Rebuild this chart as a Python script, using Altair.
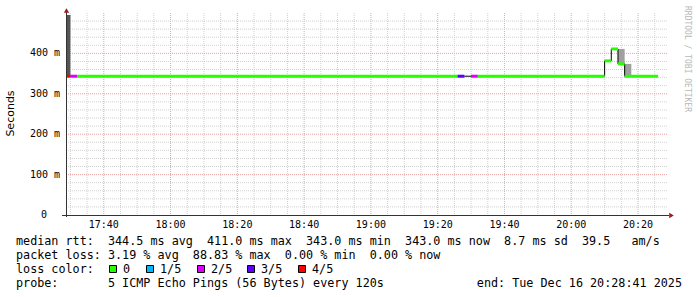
import altair as alt
import pandas as pd

# ---------------- data (times as "HH:MM[:SS]") ----------------
seg_start = ["17:28:41", "17:30", "17:32", "19:26", "19:28", "19:30", "19:32", "20:10", "20:12", "20:14", "20:16"]
seg_end   = ["17:30", "17:32", "19:26", "19:28", "19:30", "19:32", "20:10", "20:12", "20:14", "20:16", "20:26"]
median_ms = [343.5, 343.5, 343.5, 343.5, 343.5, 343.5, 343.5, 381.5, 411.0, 374.0, 343.5]
seg_loss  = ["4/5", "2/5", "0", "3/5", "5/5", "2/5", "0", "0", "0", "0", "0"]

smoke_start = ["17:28:41", "20:14", "20:16"]
smoke_end   = ["17:30", "20:16", "20:18"]
smoke_low   = [343.5, 374.0, 343.5]
smoke_high  = [495.0, 411.0, 374.0]
smoke_level = ["dense", "light", "light"]

x_tick_times  = ["17:40", "18:00", "18:20", "18:40", "19:00", "19:20", "19:40", "20:00", "20:20"]
y_tick_values = [100, 200, 300, 400]
y_tick_labels = ["100 m", "200 m", "300 m", "400 m"]

loss_labels = ["0", "1/5", "2/5", "3/5", "4/5"]
loss_colors = ["#26ff00", "#00b8ff", "#dd00ff", "#5e00ff", "#ff0000"]

rtt_stats  = ["344.5 ms avg", "411.0 ms max", "343.0 ms min", "343.0 ms now", "8.7 ms sd", "39.5   am/s"]
loss_stats = ["3.19 % avg", "88.83 % max", "0.00 % min", "0.00 % now"]
probe_text = "5 ICMP Echo Pings (56 Bytes) every 120s"
end_text = "end: Tue Dec 16 20:28:41 2025"

start_time, end_time = "17:28:41", "20:28:41"


def mins(s):
    p = [int(v) for v in s.split(":")]
    m = p[0] * 60 + p[1]
    if len(p) > 2:
        m += p[2] / 60.0
    return m


W, H = 601, 200
MONO = "DejaVu Sans Mono"
NB = "\u00a0"

xs = alt.Scale(domain=[mins(start_time), mins(end_time)], nice=False, zero=False)
ys = alt.Scale(domain=[0, 495], nice=False, zero=True)

# ---------------- grid ----------------
t0, t1 = mins(start_time), mins(end_time)
vmin = [m for m in range(1050, 1230, 5) if m % 20 != 0 and t0 < m < t1]
vmaj = [m for m in range(1060, 1230, 20) if t0 < m < t1]
hmin = [v for v in range(20, 495, 20) if v % 100 != 0]
hmaj = [100, 200, 300, 400]

grid_minor = "#d0d0d0"
grid_major = "#e6a3a3"

vminor = alt.Chart(pd.DataFrame({"t": vmin})).mark_rule(color=grid_minor, strokeDash=[1, 1], strokeWidth=1).encode(
    x=alt.X("t:Q", scale=xs, axis=None), y=alt.value(-2), y2=alt.value(H))
vmajor = alt.Chart(pd.DataFrame({"t": vmaj})).mark_rule(color=grid_major, strokeDash=[1, 1], strokeWidth=1).encode(
    x=alt.X("t:Q", scale=xs, axis=None), y=alt.value(-2), y2=alt.value(H))
hminor = alt.Chart(pd.DataFrame({"v": hmin})).mark_rule(color=grid_minor, strokeDash=[1, 1], strokeWidth=1).encode(
    y=alt.Y("v:Q", scale=ys, axis=None), x=alt.value(0), x2=alt.value(W + 1))
hmajor = alt.Chart(pd.DataFrame({"v": hmaj})).mark_rule(color=grid_major, strokeDash=[1, 1], strokeWidth=1).encode(
    y=alt.Y("v:Q", scale=ys, axis=None), x=alt.value(0), x2=alt.value(W + 1))

# ---------------- data marks ----------------
smoke_df = pd.DataFrame({
    "t0": [mins(s) for s in smoke_start], "t1": [mins(s) for s in smoke_end],
    "lo": smoke_low, "hi": smoke_high, "lvl": smoke_level})
smoke = alt.Chart(smoke_df).mark_rect().encode(
    x=alt.X("t0:Q", scale=xs, axis=None), x2="t1:Q",
    y=alt.Y("lo:Q", scale=ys, axis=None), y2="hi:Q",
    fill=alt.Fill("lvl:N", scale=alt.Scale(domain=["dense", "light"], range=["#555555", "#a0a0a0"]), legend=None))

pts = []
i = 0
for s, e, v in zip(seg_start, seg_end, median_ms):
    pts.append({"t": mins(s), "v": v, "i": i}); i += 1
    pts.append({"t": mins(e), "v": v, "i": i}); i += 1
stepline = alt.Chart(pd.DataFrame(pts)).mark_line(color="#000000", strokeWidth=1, interpolate="linear").encode(
    x=alt.X("t:Q", scale=xs, axis=None), y=alt.Y("v:Q", scale=ys, axis=None), order="i:Q")

seg_df = pd.DataFrame({
    "t0": [mins(s) for s in seg_start], "t1": [mins(s) for s in seg_end],
    "v": median_ms, "loss": seg_loss})
seg_df = seg_df[seg_df["loss"].isin(loss_labels)]
segs = alt.Chart(seg_df).mark_rule(strokeWidth=3, strokeCap="butt").encode(
    x=alt.X("t0:Q", scale=xs, axis=None), x2="t1:Q",
    y=alt.Y("v:Q", scale=ys, axis=None),
    stroke=alt.Stroke("loss:N", scale=alt.Scale(domain=loss_labels, range=loss_colors), legend=None))

# ---------------- axes ----------------
one = pd.DataFrame({"a": [0]})
axis_col = "#333333"
arrow_col = "#9b1c1c"
xaxis = alt.Chart(one).mark_rule(color=axis_col, strokeWidth=1).encode(
    x=alt.value(-4), x2=alt.value(W + 2), y=alt.value(H + 0.5))
yaxis = alt.Chart(one).mark_rule(color=axis_col, strokeWidth=1).encode(
    x=alt.value(0.5), y=alt.value(-4), y2=alt.value(H + 2))
arrow_r = alt.Chart(one).mark_point(shape="triangle-right", filled=True, color=arrow_col, size=28, opacity=1).encode(
    x=alt.value(W + 4.5), y=alt.value(H + 0.5))
arrow_u = alt.Chart(one).mark_point(shape="triangle-up", filled=True, color=arrow_col, size=28, opacity=1).encode(
    x=alt.value(0.5), y=alt.value(-4.5))

xlab = alt.Chart(pd.DataFrame({"t": [mins(s) for s in x_tick_times], "lab": x_tick_times})).mark_text(
    font=MONO, fontSize=10, color="#000000", align="center", baseline="middle").encode(
    x=alt.X("t:Q", scale=xs, axis=None), y=alt.value(H + 9.5), text="lab:N")
ylab = alt.Chart(pd.DataFrame({"v": y_tick_values, "lab": [l.replace(" ", NB) for l in y_tick_labels]})).mark_text(
    font=MONO, fontSize=10, color="#000000", align="right", baseline="middle").encode(
    y=alt.Y("v:Q", scale=ys, axis=None), x=alt.value(-6), text="lab:N")
ylab0 = alt.Chart(pd.DataFrame({"v": [0], "lab": ["0"]})).mark_text(
    font=MONO, fontSize=10, color="#000000", align="right", baseline="middle").encode(
    y=alt.Y("v:Q", scale=ys, axis=None), x=alt.value(-19), text="lab:N")
ytitle = alt.Chart(one).mark_text(text="Seconds", font="DejaVu Sans", fontSize=11, angle=270,
                                  color="#000000", align="center", baseline="middle").encode(
    x=alt.value(-55), y=alt.value(98.5))

# ---------------- legend text ----------------
LX = -50
FS = 11.75


def line(txt, y, x=LX, align="left"):
    return alt.Chart(one).mark_text(text=txt.replace(" ", NB), font=MONO, fontSize=FS, color="#000000",
                                    align=align, baseline="middle").encode(x=alt.value(x), y=alt.value(y))


l1 = line("median rtt:  " + "  ".join(rtt_stats), 226)
l2 = line("packet loss: " + "  ".join(loss_stats), 240)
l3 = line("loss color:", 254)
l4 = line("probe:       " + probe_text, 268)
l5 = line(end_text, 268, x=616, align="right")

box_left = [109, 146, 197, 247, 298]
boxes = []
for lab, col, bl in zip(loss_labels, loss_colors, box_left):
    bx = bl - 66
    boxes.append(alt.Chart(one).mark_rect(fill=col, stroke="#000000", strokeWidth=1).encode(
        x=alt.value(bx + 0.5), x2=alt.value(bx + 7.5), y=alt.value(250.5), y2=alt.value(257.5)))
    boxes.append(line(lab, 254, x=bx + 14))

wm = alt.Chart(one).mark_text(text="RRDTOOL / TOBI OETIKER", font=MONO, fontSize=8, angle=90, color="#b8b8b8",
                              align="center", baseline="middle").encode(x=alt.value(620.5), y=alt.value(44))

chart = alt.layer(
    vminor, vmajor, hminor, hmajor, smoke, stepline, segs,
    xaxis, yaxis, arrow_r, arrow_u, xlab, ylab, ylab0, ytitle,
    l1, l2, l3, l4, l5, *boxes, wm
).properties(
    width=W, height=H,
    autosize=alt.AutoSizeParams(type="none"),
    padding={"left": 66, "top": 15, "right": 697 - 66 - W, "bottom": 297 - 15 - H},
    background="white",
).resolve_scale(fill="independent", stroke="independent").configure_view(stroke=None)

chart.save("out.html", embed_options={"renderer": "svg", "actions": False})
